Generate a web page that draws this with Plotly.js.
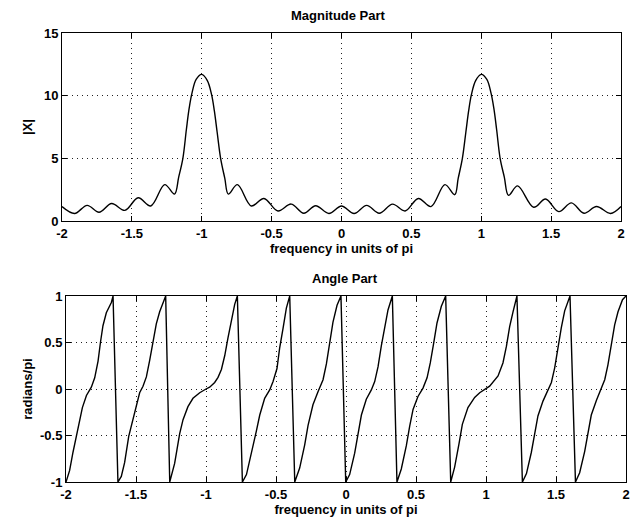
<!DOCTYPE html>
<html>
<head>
<meta charset="utf-8">
<script src="https://cdn.plot.ly/plotly-3.0.1.min.js"></script>
<style>html,body{margin:0;padding:0;background:#fff;}#chart{width:643px;height:522px;}</style>
</head>
<body>
<div id="chart"></div>
<script>
// ---- data ----
const freqMag = [-2.0,-1.91,-1.82,-1.735,-1.645,-1.55,-1.455,-1.365,-1.265,-1.195,-1.165,-1.135,-1.11,-1.09,-1.07,-1.04,-1.0,
  -0.96,-0.93,-0.91,-0.89,-0.865,-0.835,-0.81,-0.745,-0.645,-0.555,-0.455,-0.36,-0.27,-0.185,-0.09,0.0,
  0.09,0.18,0.27,0.365,0.455,0.55,0.64,0.74,0.81,0.835,0.865,0.89,0.91,0.93,0.96,1.0,
  1.04,1.07,1.09,1.11,1.135,1.165,1.195,1.26,1.375,1.46,1.555,1.645,1.735,1.825,1.925,2.0];
const magnitude = [1.15,0.6,1.25,0.7,1.4,0.85,1.85,1.2,2.9,2.15,3.5,5.0,7.3,9.0,10.2,11.3,11.7,
  11.2,10.1,8.8,7.1,5.0,3.4,2.15,2.9,1.2,1.8,0.8,1.35,0.62,1.22,0.6,1.2,
  0.6,1.25,0.62,1.35,0.8,1.8,1.15,2.9,2.1,3.4,5.0,7.1,8.8,10.1,11.2,11.7,
  11.3,10.2,9.0,7.3,5.0,3.5,2.05,2.8,1.1,1.75,0.75,1.45,0.62,1.16,0.6,1.16];

const freqAng = [
  -2.0,-1.974,-1.95,-1.926,-1.907,-1.883,-1.854,-1.819,-1.795,-1.771,-1.754,-1.736,-1.712,-1.676,-1.664,
  -1.629,-1.605,-1.581,-1.552,-1.526,-1.502,-1.474,-1.45,-1.426,-1.402,-1.379,-1.355,-1.331,-1.302,-1.288,
  -1.259,-1.243,-1.224,-1.207,-1.188,-1.164,-1.129,-1.093,-1.045,-1.0,-0.974,-0.938,-0.914,-0.89,-0.866,-0.843,-0.819,-0.795,-0.776,
  -0.74,-0.711,-0.676,-0.64,-0.616,-0.581,-0.545,-0.521,-0.493,-0.474,-0.45,-0.426,-0.402,
  -0.366,-0.331,-0.295,-0.271,-0.236,-0.2,-0.164,-0.14,-0.116,-0.093,-0.064,-0.036,
  -0.002,0.026,0.062,0.086,0.11,0.145,0.181,0.205,0.229,0.252,0.276,0.3,0.331,
  0.364,0.395,0.431,0.455,0.479,0.514,0.55,0.579,0.602,0.626,0.65,0.681,0.712,
  0.748,0.776,0.807,0.831,0.871,0.919,0.955,0.991,1.026,1.086,1.121,1.146,1.169,1.193,1.221,
  1.26,1.289,1.324,1.348,1.371,1.407,1.443,1.467,1.491,1.514,1.538,1.562,1.6,
  1.639,1.669,1.705,1.729,1.752,1.789,1.824,1.848,1.871,1.895,1.919,1.943,1.975,2.0];
const angle = [
  -1.0,-0.875,-0.68,-0.5,-0.36,-0.2,-0.07,0.02,0.12,0.3,0.5,0.68,0.82,0.93,1.0,
  -1.0,-0.94,-0.79,-0.51,-0.36,-0.19,-0.04,0.03,0.13,0.31,0.49,0.7,0.83,0.94,1.0,
  -1.0,-0.92,-0.8,-0.65,-0.48,-0.33,-0.19,-0.1,-0.04,0.0,0.02,0.07,0.125,0.21,0.36,0.55,0.75,0.91,1.0,
  -1.0,-0.92,-0.7,-0.45,-0.28,-0.1,-0.01,0.08,0.22,0.44,0.65,0.87,1.0,
  -1.0,-0.85,-0.6,-0.39,-0.17,-0.03,0.1,0.27,0.5,0.72,0.9,1.0,
  -1.0,-0.92,-0.69,-0.47,-0.28,-0.11,-0.01,0.08,0.24,0.46,0.67,0.85,1.0,
  -1.0,-0.86,-0.61,-0.4,-0.22,-0.08,0.01,0.12,0.28,0.49,0.71,0.89,1.0,
  -1.0,-0.84,-0.59,-0.38,-0.2,-0.09,-0.04,0.0,0.03,0.14,0.28,0.46,0.67,0.83,1.0,
  -1.0,-0.91,-0.68,-0.48,-0.29,-0.13,-0.02,0.07,0.23,0.45,0.66,0.84,1.0,
  -1.0,-0.9,-0.67,-0.46,-0.28,-0.12,0.01,0.1,0.26,0.47,0.69,0.83,0.96,1.0];

const freqTicks = [-2,-1.5,-1,-0.5,0,0.5,1,1.5,2];
const freqTickText = ['-2','-1.5','-1','-0.5','0','0.5','1','1.5','2'];
const magTicks = [0,5,10,15];
const magTickText = ['0','5','10','15'];
const angTicks = [-1,-0.5,0,0.5,1];
const angTickText = ['-1','-0.5','0','0.5','1'];

// ---- plot ----
const W = 643, H = 522;
const FONT = 'Liberation Sans, Arial, Helvetica, sans-serif';
const txt = (s) => '<b>' + s + '</b>';
const axisStyle = {
  showline: true, linecolor: '#000', linewidth: 1, mirror: 'ticks',
  ticks: 'inside', ticklen: 5, tickcolor: '#000', tickwidth: 1,
  showgrid: true, gridcolor: '#222', griddash: '1px,4px', gridwidth: 1,
  zeroline: false, fixedrange: true,
  tickfont: {family: FONT, size: 13, color: '#000', weight: 'bold'}
};
const titleFont = {family: FONT, size: 13, color: '#000', weight: 'bold'};
const traces = [
  {x: freqMag, y: magnitude, type: 'scatter', mode: 'lines', xaxis: 'x', yaxis: 'y',
   line: {color: '#000', width: 1.4, shape: 'spline', smoothing: 1}},
  {x: freqAng, y: angle, type: 'scatter', mode: 'lines', xaxis: 'x2', yaxis: 'y2',
   line: {color: '#000', width: 1.4}}
];
const layout = {
  width: W, height: H,
  margin: {l: 0, r: 0, t: 0, b: 0},
  paper_bgcolor: '#fff', plot_bgcolor: '#fff',
  showlegend: false,
  font: {family: FONT, size: 13, color: '#000'},
  xaxis: Object.assign({}, axisStyle, {
    domain: [62/W, 621/W], range: [-2, 2], anchor: 'y',
    tickmode: 'array', tickvals: freqTicks, ticktext: freqTickText,
    title: {text: 'frequency in units of pi', standoff: 2, font: titleFont}
  }),
  yaxis: Object.assign({}, axisStyle, {
    domain: [1 - 221/H, 1 - 33/H], range: [0, 15], anchor: 'x',
    tickmode: 'array', tickvals: magTicks, ticktext: magTickText,
    title: {text: '|X|', standoff: 8, font: titleFont}
  }),
  xaxis2: Object.assign({}, axisStyle, {
    domain: [66/W, 626/W], range: [-2, 2], anchor: 'y2',
    tickmode: 'array', tickvals: freqTicks, ticktext: freqTickText,
    title: {text: 'frequency in units of pi', standoff: 0, font: titleFont}
  }),
  yaxis2: Object.assign({}, axisStyle, {
    domain: [1 - 482/H, 1 - 296/H], range: [-1, 1], anchor: 'x2',
    tickmode: 'array', tickvals: angTicks, ticktext: angTickText,
    title: {text: 'radians/pi', standoff: 4, font: titleFont}
  }),
  annotations: [
    {text: 'Magnitude Part', xref: 'paper', yref: 'paper', x: 338/W, y: 1 - 15/H,
     xanchor: 'center', yanchor: 'middle', showarrow: false, font: titleFont},
    {text: 'Angle Part', xref: 'paper', yref: 'paper', x: 345/W, y: 1 - 278/H,
     xanchor: 'center', yanchor: 'middle', showarrow: false, font: titleFont}
  ]
};
Plotly.newPlot('chart', traces, layout, {staticPlot: true, displayModeBar: false});
</script>
</body>
</html>
